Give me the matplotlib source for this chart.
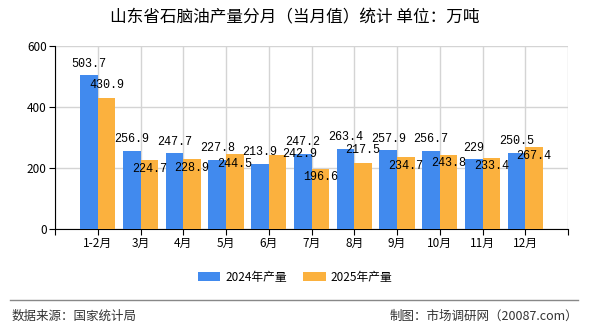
import matplotlib
matplotlib.use('Agg')
import matplotlib.pyplot as plt
import numpy as np

plt.rcParams['font.family'] = ['Noto Sans CJK SC', 'DejaVu Sans']

# data
months = ['1-2月', '3月', '4月', '5月', '6月', '7月', '8月', '9月', '10月', '11月', '12月']
prod_2024 = [503.7, 256.9, 247.7, 227.8, 213.9, 247.2, 263.4, 257.9, 256.7, 229, 250.5]
prod_2025 = [430.9, 224.7, 228.9, 244.5, 242.9, 196.6, 217.5, 234.7, 243.8, 233.4, 267.4]

BLUE = '#418aee'
ORANGE = '#fbb13e'
LABEL_FONT = ['Liberation Mono', 'DejaVu Sans Mono']

fig = plt.figure(figsize=(5.9, 3.3), dpi=100)
ax = fig.add_axes([55 / 590, 1 - 229 / 330, (568 - 55) / 590, (229 - 46) / 330])

x = np.arange(len(months))
w = 0.41
b1 = ax.bar(x - w / 2, prod_2024, w, color=BLUE, label='2024年产量', zorder=3)
b2 = ax.bar(x + w / 2, prod_2025, w, color=ORANGE, label='2025年产量', zorder=3)

# value labels (the 2025 ones are shuffled around in the original)
for xi, v in zip(x, prod_2024):
    ax.annotate(f'{v:g}', (xi - w / 2, v), xytext=(0, 4), textcoords='offset points',
                ha='center', va='bottom', fontsize=8.5, family=LABEL_FONT, zorder=5)
dy_2025 = [9, -6, -6.5, -7, 1, -6, 9, -6.5, -6, -6, -6.5]
dx_2025 = [0, 0, 0, 0, 16, 0, 0, 0, 0, 0, 0]
for xi, v, dx, dy in zip(x, prod_2025, dx_2025, dy_2025):
    ax.annotate(f'{v:g}', (xi + w / 2, v), xytext=(dx, dy), textcoords='offset points',
                ha='center', va='center', fontsize=8.5, family=LABEL_FONT, zorder=5)

ax.set_xlim(-1, 11)
ax.set_ylim(0, 600)
ax.set_yticks([0, 200, 400, 600])
ax.set_xticks(np.arange(-1, 12))
ax.set_xticklabels([''] + months + [''])
ax.tick_params(axis='both', labelsize=8.5, length=4, color='black', pad=2)

ax.grid(True, color='#d4d4d4', linewidth=1, zorder=0)
ax.set_axisbelow(True)
for side in ['top', 'right']:
    ax.spines[side].set_visible(False)
ax.spines['left'].set_color('black')
ax.spines['bottom'].set_color('black')

fig.text(0.5, 1 - 18 / 330, '山东省石脑油产量分月（当月值）统计 单位：万吨',
         ha='center', va='center', fontsize=12)

fig.legend(handles=[b1, b2], loc='center', bbox_to_anchor=(0.5, 1 - 277 / 330),
           ncol=2, frameon=False, fontsize=8.5, handlelength=1.9, handleheight=0.8,
           columnspacing=1.4, handletextpad=0.4)

fig.add_artist(plt.Line2D([10 / 590, 578 / 590], [1 - 300 / 330, 1 - 300 / 330],
                          color='#888888', linewidth=1))
fig.text(12 / 590, 1 - 316 / 330, '数据来源：国家统计局', ha='left', va='center',
         fontsize=9, color='#333333')
fig.text(578 / 590, 1 - 316 / 330, '制图：市场调研网（20087.com）', ha='right', va='center',
         fontsize=9, color='#333333')

plt.savefig('out.png', dpi=100, facecolor='white')
plt.close()
